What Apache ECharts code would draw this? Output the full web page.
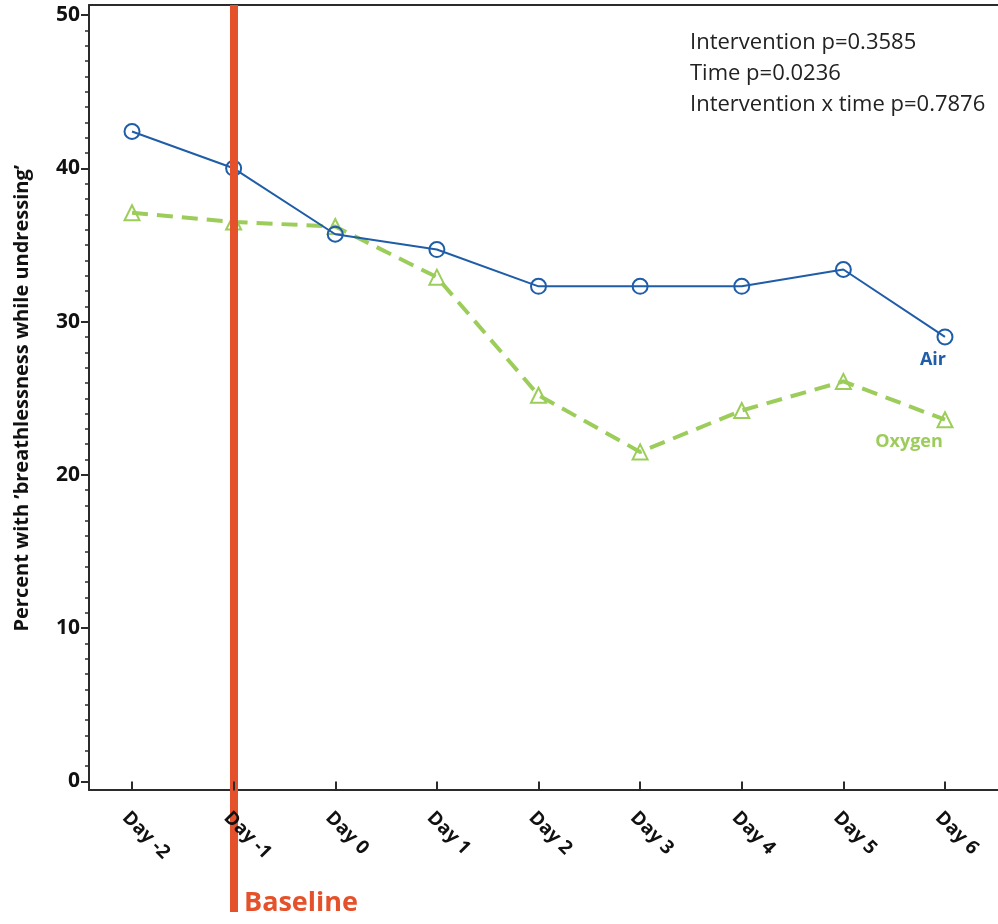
<!DOCTYPE html>
<html><head><meta charset="utf-8">
<script src="https://cdn.jsdelivr.net/npm/echarts@6/dist/echarts.min.js"></script>
<style>html,body{margin:0;padding:0;background:#fff}#c{width:998px;height:924px}</style>
</head><body><div id="c"></div>
<script>
const categories = ['Day -2','Day -1','Day 0','Day 1','Day 2','Day 3','Day 4','Day 5','Day 6'];
const airValues = [42.4, 40.0, 35.7, 34.7, 32.3, 32.3, 32.3, 33.4, 29.0];
const oxygenValues = [37.1, 36.5, 36.2, 32.9, 25.2, 21.5, 24.2, 26.1, 23.6];
const yMin = 0, yMax = 50, yStep = 10;
const baselineDay = 'Day -1';
const statsLines = ['Intervention p=0.3585', 'Time p=0.0236', 'Intervention x time p=0.7876'];
const seriesNames = ['Air', 'Oxygen'];
const yAxisTitle = 'Percent with \u2019breathlessness while undressing\u2019';
const baselineText = 'Baseline';

const FONT = '"Open Sans", "Noto Sans", sans-serif';
const BLUE = '#1F5DA8', GREEN = '#9CCD5A', RED = '#E5512B', AXIS = '#2b2b2b';

function withEndLabel(values, offset, color) {
  return values.map((v, i) => i === values.length - 1
    ? { value: v, label: { show: true, position: 'bottom', offset: offset, formatter: '{a}',
        color: color, fontWeight: 'bold', fontSize: 18, fontFamily: FONT } }
    : v);
}

const chart = echarts.init(document.getElementById('c'), null, { renderer: 'canvas' });
const hiddenVal = { type: 'value', min: 0, max: 1, axisTick: { show: false }, axisLabel: { show: false }, splitLine: { show: false } };
chart.setOption({
  animation: false,
  backgroundColor: '#fff',
  grid: [
    { left: 89, right: 0, top: 5, bottom: 134 },
    { left: 81.2, right: 2.2, top: 15, bottom: 142.5 },
    { left: 81.2, right: 2.2, top: 5, bottom: 12 }
  ],
  xAxis: [
    Object.assign({ gridIndex: 0, position: 'bottom', axisLine: { show: true, lineStyle: { color: AXIS, width: 2 } } }, hiddenVal),
    Object.assign({ gridIndex: 0, position: 'top', axisLine: { show: true, lineStyle: { color: AXIS, width: 2 } } }, hiddenVal),
    { gridIndex: 1, type: 'category', data: categories, boundaryGap: true, offset: 8.5, z: 6,
      axisLine: { show: false },
      axisTick: { show: true, alignWithLabel: true, length: 9, lineStyle: { color: AXIS, width: 2 } },
      axisLabel: { rotate: -45, fontWeight: 'bold', fontSize: 19, color: '#111', margin: 18, verticalAlign: 'top', fontFamily: FONT, interval: 0 },
      splitLine: { show: false } },
    { gridIndex: 2, type: 'category', data: categories, boundaryGap: true, show: false }
  ],
  yAxis: [
    Object.assign({ gridIndex: 0, axisLine: { show: true, lineStyle: { color: AXIS, width: 2 } } }, hiddenVal),
    { gridIndex: 1, type: 'value', min: yMin, max: yMax, interval: yStep, offset: -7.8,
      axisLine: { show: false },
      axisTick: { show: true, length: 8, lineStyle: { color: AXIS, width: 2 } },
      minorTick: { show: true, splitNumber: 10, length: 4, lineStyle: { color: AXIS, width: 1.5 } },
      axisLabel: { fontWeight: 'bold', fontSize: 21, color: '#111', margin: 9, fontFamily: FONT },
      splitLine: { show: false }, minorSplitLine: { show: false },
      name: yAxisTitle, nameLocation: 'middle', nameGap: 57, nameRotate: 90,
      nameTextStyle: { fontWeight: 'bold', fontSize: 20, color: '#111', fontFamily: FONT } },
    Object.assign({ gridIndex: 2, show: false }, hiddenVal)
  ],
  series: [
    { type: 'line', name: 'baseline', xAxisIndex: 3, yAxisIndex: 2, z: 1,
      data: categories.map(() => null), symbol: 'none',
      markLine: { silent: true, symbol: 'none', label: { show: false },
        lineStyle: { color: RED, width: 8, type: 'solid' },
        data: [{ xAxis: baselineDay }] } },
    { type: 'line', name: seriesNames[1], xAxisIndex: 2, yAxisIndex: 1, z: 3,
      data: withEndLabel(oxygenValues, [-36, 0], GREEN),
      color: GREEN,
      lineStyle: { color: GREEN, width: 4, type: [16, 9] },
      symbol: 'triangle', symbolSize: 15,
      itemStyle: { color: 'rgba(255,255,255,0)', borderColor: GREEN, borderWidth: 2 } },
    { type: 'line', name: seriesNames[0], xAxisIndex: 2, yAxisIndex: 1, z: 4,
      data: withEndLabel(airValues, [-12, 0], BLUE),
      color: BLUE,
      lineStyle: { color: BLUE, width: 2 },
      symbol: 'circle', symbolSize: 15,
      itemStyle: { color: 'rgba(255,255,255,0)', borderColor: BLUE, borderWidth: 2 } }
  ],
  graphic: [
    { type: 'text', left: 690, top: 27, z: 10,
      style: { text: statsLines.join('\n'), fontSize: 22, lineHeight: 31, fill: '#222', fontFamily: FONT } },
    { type: 'text', left: 244, top: 890, z: 10,
      style: { text: baselineText, fontSize: 27, fontWeight: 'bold', fill: RED, fontFamily: FONT } }
  ]
});
</script>
</body></html>
